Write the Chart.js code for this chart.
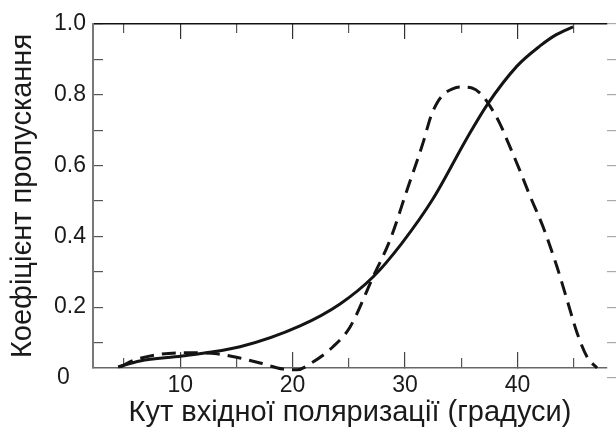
<!DOCTYPE html>
<html>
<head>
<meta charset="utf-8">
<script src="https://cdn.jsdelivr.net/npm/chart.js@4/dist/chart.umd.min.js"></script>
<style>
  html, body { margin: 0; padding: 0; background: #ffffff; }
  #wrap { width: 616px; height: 436px; }
</style>
</head>
<body>
<div id="wrap"><canvas id="c" width="616" height="436"></canvas></div>
<script>
// ---- data ----
const solidX = [4.47, 6.42, 10.16, 15.32, 20.66, 24.22, 27.15, 29.73, 32.49, 35.52, 37.29, 39.96, 42.01, 43.46, 44.95];
const solidY = [0.031, 0.048, 0.062, 0.088, 0.147, 0.209, 0.285, 0.381, 0.506, 0.678, 0.771, 0.881, 0.938, 0.970, 0.992];

const dashX = [4.65, 6.16, 10.25, 13.27, 15.32, 17.10, 19.15, 20.39, 21.81, 23.59, 25.11, 27.15, 28.67, 30.18, 31.60, 32.31, 32.85, 33.47, 34.18, 34.89, 35.96, 36.76, 37.56, 38.45, 39.08, 40.23, 41.12, 42.28, 43.52, 44.42, 45.31, 46.20, 47.09];
const dashY = [0.031, 0.053, 0.071, 0.068, 0.056, 0.042, 0.025, 0.023, 0.045, 0.088, 0.144, 0.285, 0.390, 0.531, 0.664, 0.740, 0.777, 0.802, 0.816, 0.822, 0.819, 0.802, 0.768, 0.718, 0.672, 0.585, 0.514, 0.427, 0.314, 0.220, 0.127, 0.059, 0.028];

const xMajorTicks = [10, 20, 30, 40];
const xMinorTicks = [5, 15, 25, 35, 45];
const yTicks = [0, 0.1, 0.2, 0.3, 0.4, 0.5, 0.6, 0.7, 0.8, 0.9, 1.0];
const yTickLabels = ['0\u2002\u2009', '', '0.2', '', '0.4', '', '0.6', '', '0.8', '', '1.0'];

const xTitle = 'Кут вхідної поляризації (градуси)';
const yTitle = 'Коефіцієнт пропускання';

const X_MIN = 2.24, X_MAX = 47.97;
const Y_MIN = 0.028, Y_MAX = 1.0;

// ---- chart ----
const toPts = (xs, ys) => xs.map((x, i) => ({ x: x, y: ys[i] }));
const tickFont = { family: "'Liberation Sans Narrow', 'Liberation Sans', Arial, sans-serif", size: 23 };
const titleFont = { family: "'Liberation Sans', Arial, sans-serif", size: 29 };
const setTicks = arr => (s => { s.ticks = arr.map(v => ({ value: v })); });
const noPad = s => { s.paddingTop = 0; s.paddingBottom = 0; s.paddingLeft = 0; s.paddingRight = 0; };

new Chart(document.getElementById('c'), {
  type: 'line',
  data: {
    datasets: [
      {
        data: toPts(solidX, solidY),
        borderColor: '#141414', borderWidth: 3, pointRadius: 0,
        cubicInterpolationMode: 'monotone', fill: false, clip: false,
        xAxisID: 'x', yAxisID: 'y'
      },
      {
        data: toPts(dashX, dashY),
        borderColor: '#141414', borderWidth: 3, borderDash: [14, 8], pointRadius: 0,
        cubicInterpolationMode: 'monotone', fill: false, clip: false,
        xAxisID: 'x', yAxisID: 'y'
      }
    ]
  },
  options: {
    responsive: false,
    animation: false,
    devicePixelRatio: 1,
    layout: { padding: 0 },
    plugins: { legend: { display: false }, tooltip: { enabled: false } },
    scales: {
      x: {
        type: 'linear', position: 'bottom', min: X_MIN, max: X_MAX, weight: 1,
        afterBuildTicks: setTicks(xMajorTicks),
        afterFit: s => { s.height = 68; noPad(s); },
        grid: { drawOnChartArea: false, tickLength: -16, color: '#444', lineWidth: 1.2 },
        border: { display: true, color: '#666', width: 1.5 },
        ticks: { padding: 20, font: tickFont, color: '#1a1a1a', maxRotation: 0, autoSkip: false,
                 callback: v => String(v) },
        title: { display: true, text: xTitle, font: titleFont, color: '#1a1a1a', padding: { top: 0, bottom: 6 } }
      },
      xMinor: {
        type: 'linear', position: 'bottom', min: X_MIN, max: X_MAX, weight: 0,
        afterBuildTicks: setTicks(xMinorTicks),
        afterFit: s => { s.height = 0; noPad(s); },
        grid: { drawOnChartArea: false, tickLength: -10, color: '#555', lineWidth: 1.2 },
        border: { display: false },
        ticks: { display: false }
      },
      xTop: {
        type: 'linear', position: 'top', min: X_MIN, max: X_MAX, weight: 1,
        afterBuildTicks: setTicks(xMajorTicks),
        afterFit: s => { s.height = 24; noPad(s); },
        grid: { drawOnChartArea: false, tickLength: -15, color: '#333', lineWidth: 1.2 },
        border: { display: true, color: '#111', width: 1.5 },
        ticks: { display: false }
      },
      xTopMinor: {
        type: 'linear', position: 'top', min: X_MIN, max: X_MAX, weight: 0,
        afterBuildTicks: setTicks(xMinorTicks),
        afterFit: s => { s.height = 0; noPad(s); },
        grid: { drawOnChartArea: false, tickLength: -9, color: '#555', lineWidth: 1.2 },
        border: { display: false },
        ticks: { display: false }
      },
      y: {
        type: 'linear', position: 'left', min: Y_MIN, max: Y_MAX,
        afterBuildTicks: setTicks(yTicks),
        afterFit: s => { s.width = 93; noPad(s); },
        grid: { drawOnChartArea: false, tickLength: -10, lineWidth: 1.2,
                color: ctx => (ctx.tick && ctx.tick.value === 0) ? 'rgba(0,0,0,0)' : '#555' },
        border: { display: true, color: '#777', width: 2 },
        ticks: { padding: 17, font: tickFont, color: '#1a1a1a', autoSkip: false,
                 callback: (v, i) => yTickLabels[i] },
        title: { display: true, text: yTitle, font: titleFont, color: '#1a1a1a', padding: { top: 6, bottom: 0 } }
      },
      y2: {
        type: 'linear', position: 'right', min: Y_MIN, max: Y_MAX,
        afterBuildTicks: setTicks(yTicks),
        afterFit: s => { s.width = 9; noPad(s); },
        grid: { drawOnChartArea: false, tickLength: 9, color: '#aaa', lineWidth: 1.2 },
        border: { display: false },
        ticks: { display: false }
      }
    }
  }
});
</script>
</body>
</html>
